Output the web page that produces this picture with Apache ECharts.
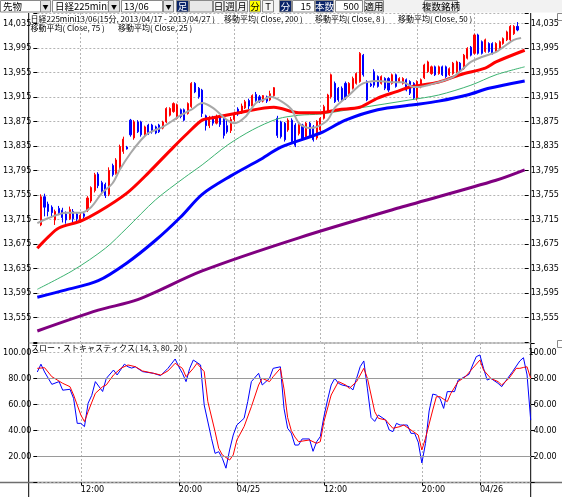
<!DOCTYPE html>
<html><head><meta charset="utf-8">
<script src="https://cdn.jsdelivr.net/npm/echarts@6/dist/echarts.min.js"></script>
<style>html,body{margin:0;padding:0;background:#fff}#c{width:562px;height:497px}</style>
</head><body><div id="c"></div>
<script>
// ---- data ----
const categoryCount = 137;            // 15-minute bars on the time axis
const firstCandle = 1;                // category index of first candle
const tickIdx  = [12, 39, 55, 79, 106, 122];
const tickText = ['12:00', '20:00', '04/25', '12:00', '20:00', '04/26'];

const opens = [13706,13752,13740,13735,13714,13733,13730,13724,13716,13728,13724,13714,13724,13730,13745,13762,13789,13775,13772,13756,
13803,13790,13800,13826,13833,13877,13848,13874,13874,13853,13869,13869,13866,13869,13864,13874,13885,13891,13880,13894,
13894,13888,13899,13937,13929,13926,13884,13868,13880,13872,13882,13880,13868,13860,13878,13895,13889,13897,13909,13900,
13919,13915,13908,13915,13910,13917,13880,13874,13872,13861,13877,13869,13855,13869,13850,13872,13866,13848,13861,13880,
13891,13915,13937,13929,13929,13937,13918,13929,13937,13940,13983,13940,13936,13956,13948,13937,13945,13945,13937,13951,
13940,13937,13943,13940,13937,13912,13931,13946,13956,13953,13964,13953,13964,13964,13951,13953,13956,13970,13961,13978,
13996,13986,14016,14005,13989,14002,14002,13989,13994,14002,14008,14008,14018,14030];
const closes = [13752,13735,13728,13726,13728,13726,13718,13714,13731,13716,13716,13722,13720,13750,13767,13788,13770,13760,13754,13795,
13788,13812,13834,13846,13830,13853,13874,13858,13853,13866,13855,13858,13856,13858,13874,13896,13896,13904,13902,13883,
13877,13904,13937,13923,13915,13888,13868,13880,13872,13882,13870,13852,13858,13878,13888,13887,13900,13907,13900,13917,
13909,13908,13917,13908,13920,13930,13852,13850,13845,13877,13842,13836,13872,13847,13872,13853,13845,13875,13880,13899,
13918,13951,13907,13910,13910,13913,13937,13945,13953,13986,13951,13910,13933,13934,13932,13948,13929,13926,13951,13932,
13945,13945,13926,13921,13913,13940,13943,13967,13972,13964,13951,13964,13951,13948,13961,13970,13972,13959,13983,13994,
13983,14016,13986,13986,14008,13989,13986,14002,14005,14010,14021,14030,14030,14024];
const lows = [13704,13720,13720,13718,13706,13722,13710,13708,13714,13710,13712,13710,13717,13727,13742,13759,13766,13756,13750,13753,
13785,13788,13796,13822,13829,13850,13845,13856,13850,13851,13853,13855,13854,13856,13862,13872,13883,13889,13878,13880,
13875,13886,13897,13921,13912,13882,13860,13864,13868,13870,13866,13847,13855,13856,13875,13884,13887,13895,13895,13898,
13907,13905,13906,13905,13908,13915,13848,13847,13842,13858,13838,13833,13852,13844,13847,13850,13842,13845,13858,13878,
13889,13912,13905,13907,13907,13910,13915,13927,13935,13938,13948,13908,13931,13930,13930,13935,13926,13923,13935,13930,
13938,13935,13924,13918,13910,13909,13929,13944,13954,13951,13949,13951,13949,13946,13949,13951,13954,13957,13959,13976,
13981,13984,13984,13984,13987,13987,13984,13987,13992,14000,14006,14006,14016,14022];
const highs = [13756,13757,13744,13738,13731,13737,13734,13728,13736,13732,13727,13726,13726,13753,13769,13791,13792,13778,13775,13800,
13806,13815,13837,13850,13835,13879,13877,13877,13876,13868,13871,13871,13868,13871,13876,13898,13898,13906,13904,13896,
13896,13906,13939,13939,13931,13928,13886,13884,13884,13886,13885,13882,13878,13882,13891,13898,13904,13910,13912,13919,
13923,13918,13918,13917,13925,13931,13884,13876,13874,13880,13880,13872,13874,13871,13874,13874,13869,13877,13882,13902,
13920,13953,13940,13931,13932,13940,13939,13948,13955,13988,13985,13942,13938,13960,13950,13950,13947,13947,13953,13953,
13947,13947,13945,13942,13939,13942,13945,13969,13974,13966,13966,13966,13966,13966,13963,13972,13974,13972,13985,13996,
13998,14018,14018,14007,14010,14004,14004,14004,14007,14012,14023,14032,14032,14037];

// moving averages read at sample bars: [category index, value]
const ma8 = [[0,13709],[3,13717],[8,13726],[12,13726],[15,13735],[18,13758],[21,13774],[23,13796],[26,13823],[29,13845],[31,13856],[33,13861],[35,13866],[38,13877],[40,13885],[43,13894],[46,13905],[49,13897],[53,13877],[55,13872],[58,13882],[61,13905],[63,13910],[65,13915],[68,13908],[71,13894],[73,13872],[76,13864],[78,13866],[81,13877],[83,13897],[87,13918],[90,13934],[92,13939],[95,13941],[99,13939],[102,13939],[105,13931],[106,13931],[109,13934],[112,13939],[116,13947],[119,13962],[121,13972],[124,13980],[128,13988],[130,13996],[133,14008],[135,14011]];
const ma25 = [[0,13668],[3,13686],[6,13701],[12,13712],[17,13727],[25,13758],[31,13791],[38,13833],[42,13856],[46,13877],[49,13881],[57,13890],[66,13898],[73,13889],[79,13889],[84,13894],[90,13898],[95,13913],[100,13923],[104,13931],[112,13939],[118,13951],[125,13962],[128,13972],[136,13991]];
const ma50 = [[0,13601],[10,13632],[19,13668],[25,13701],[33,13747],[41,13783],[46,13804],[53,13836],[60,13861],[67,13879],[73,13885],[79,13887],[90,13897],[104,13910],[112,13918],[121,13934],[128,13951],[136,13964]];
const ma75 = [[0,13588],[8,13600],[17,13615],[25,13644],[33,13681],[40,13719],[46,13756],[54,13786],[62,13812],[68,13833],[79,13856],[86,13877],[95,13894],[105,13902],[112,13908],[120,13918],[126,13929],[136,13941]];
const ma200 = [[0,13533],[17,13567],[28,13584],[46,13631],[73,13685],[101,13734],[128,13779],[136,13796]];

// slow stochastics (14, 3, 80, 20)
const stochK = [[0,85],[1,91],[2,85],[4,75.5],[6,77.6],[7,71],[9,71.7],[10,64.7],[11,45.5],[12,45.5],[13,43],[14,61],[15,67],[16,77.6],[18,70],[19,80],[21,86.5],[22,82.7],[24,91],[25,89],[26,88],[27,89],[29,85.3],[32,84],[34,82.2],[36,87.8],[38,95],[39,89],[40,84],[41,77.6],[42,87.8],[43,94.2],[45,90.4],[46,59.6],[48,34],[49,22.4],[50,23.7],[51,18.6],[52,11],[53,25],[54,36.5],[55,44.2],[57,49.4],[58,62.2],[59,77.6],[61,84],[62,75],[64,80.1],[65,87.8],[67,89],[68,57],[69,41.7],[70,38],[71,28.8],[72,28.8],[73,33.5],[75,33.5],[76,24],[77,31.4],[78,35.3],[79,50.6],[80,63.5],[81,75],[82,80.1],[83,76.3],[84,75],[86,73.7],[87,71.2],[88,80.1],[89,89.1],[90,93.5],[91,72],[92,50],[93,47],[94,51.9],[96,48.1],[97,40.4],[98,39.1],[99,45.5],[100,44.2],[102,44.2],[103,37.8],[104,37.8],[105,31],[106,15],[107,30],[108,55],[109,68],[110,67.3],[111,64.7],[112,57],[113,69.9],[115,69.9],[116,78.8],[117,80.1],[119,83.2],[120,90.4],[121,96.8],[122,98.1],[123,87.8],[124,78.8],[125,80.1],[127,76.3],[128,73.7],[129,77.6],[131,85.3],[133,93.5],[134,96],[135,82.7],[136,48]];
const stochD = [[0,87.8],[2,88.3],[4,81.4],[7,76.3],[9,73.7],[10,67.3],[12,51.9],[13,46.8],[14,54.5],[16,68.6],[18,73.7],[19,75],[21,82.7],[23,87.8],[25,90.4],[27,89.1],[29,85.8],[32,84],[34,82.7],[36,85.8],[38,91.7],[40,87.8],[41,81.4],[43,87.8],[44,91.7],[46,85.3],[47,62.2],[49,39.1],[50,26.3],[51,21.2],[53,17.3],[54,21.2],[55,32.7],[57,43],[59,58.3],[61,75],[62,80.1],[64,77.6],[65,81.4],[67,87.8],[68,72],[69,50],[70,40],[71,35],[72,31.4],[75,32.7],[77,30.1],[78,31.4],[79,46.8],[81,67.3],[83,77.6],[85,75],[86,72.4],[88,77.6],[90,87.8],[91,80.1],[93,54.5],[94,49.4],[96,48.1],[98,41.7],[100,43],[101,44.2],[103,40.4],[105,36.5],[106,25],[107,34],[109,55.8],[110,66],[111,66],[113,62.2],[114,68.6],[116,77.6],[118,81.4],[120,87.8],[122,94.2],[123,86.5],[125,80.1],[127,77.6],[128,75],[130,80.1],[132,87.8],[133,87.8],[134,88.5],[135,89],[136,80]];

const priceMin = 13515, priceMax = 14051.8, priceStep = 40;
const stochMin = 0, stochMax = 107.3, stochStep = 20;
const stochBands = [80, 20];

const legendLine1 = ['日経225mini', '13/06(15分, 2013/04/17 - 2013/04/27 )', '移動平均( Close, 200 )', '移動平均( Close, 8 )', '移動平均( Close, 50 )'];
const legendLine2 = ['移動平均( Close, 75 )', '移動平均( Close, 25 )'];
const stochTitle = 'スロー・ストキャスティクス( 14, 3, 80, 20 )';

// ---- layout / style ----
const NUMF = '"Liberation Sans Narrow","DejaVu Sans Condensed","Liberation Sans",sans-serif';
const JPF = '"Noto Sans CJK JP",sans-serif';
const L = 28.7, R = 530.7, W = 562, H = 497;
const gridLine = {color:'#b4b4b4', type:[2,2], width:1};

const cats = Array.from({length: categoryCount}, (_, i) => String(i));
const tickSet = new Set(tickIdx);
const candleData = cats.map((_, i) => {
  const k = i - firstCandle;
  if (k < 0 || k >= opens.length) return '-';
  return [opens[k], closes[k], lows[k], highs[k]];
});

const chart = echarts.init(document.getElementById('c'), null, {renderer:'canvas'});

function xAxis(gi, labels) {
  return {
    type:'category', gridIndex:gi, data:cats, boundaryGap:false,
    axisLine:{show:false},
    axisTick:{show:labels, interval:(i)=>tickSet.has(i), length:3, lineStyle:{color:'#000'}},
    axisLabel:{show:labels, interval:(i)=>tickSet.has(i), align:'left', margin:3,
      fontFamily:NUMF, fontSize:9, color:'#000',
      formatter:(v)=>{const p = tickIdx.indexOf(Number(v)); return p>=0 ? tickText[p] : '';}},
    splitLine:{show:true, interval:(i)=>tickSet.has(i), lineStyle:gridLine}
  };
}
function priceFmt(v){ return (v < 13550 || v > 14040) ? '' : v.toLocaleString('en-US'); }
function stochFmt(v){ return (v <= 0 || v > 100) ? '' : v.toFixed(2); }
function yAxis(gi, pos, mn, mx, step, fmt, split, extra) {
  return Object.assign({
    type:'value', gridIndex:gi, position:pos, min:mn, max:mx, interval:step,
    axisLine:{show:false},
    axisTick:{show:true, length:4, lineStyle:{color:'#000'}},
    axisLabel:{formatter:fmt, fontFamily:NUMF, fontSize:9, color:'#000', margin:6, showMinLabel:true, showMaxLabel:true},
    splitLine:{show:split, lineStyle:gridLine}
  }, extra || {});
}

const LEGEND_FONT = '8px ' + JPF;
const legendGraphics = [];
const line1X = [30.5, 76, 224, 315, 398];
legendLine1.forEach((t, k) => legendGraphics.push({type:'text', x:line1X[k], y:18.5, silent:true,
  style:{text:t, font:LEGEND_FONT, fill:'#000', verticalAlign:'middle'}}));
const line2X = [30.5, 118];
legendLine2.forEach((t, k) => legendGraphics.push({type:'text', x:line2X[k], y:27.5, silent:true,
  style:{text:t, font:LEGEND_FONT, fill:'#000', verticalAlign:'middle'}}));
legendGraphics.push({type:'text', x:31, y:347.5, silent:true,
  style:{text:stochTitle, font:LEGEND_FONT, fill:'#000', verticalAlign:'middle'}});

// toolbar of the trading application (UI chrome above the chart)
const toolbar = [
  {x:0,   w:40, t:'先物',      bg:'#ffffff', fg:'#000', a:'left'},
  {x:40,  w:10, t:'▼',        bg:'#e4e4e4', fg:'#000', s:6},
  {x:52,  w:56, t:'日経225mini', bg:'#ffffff', fg:'#000', a:'left'},
  {x:108, w:11, t:'▼',        bg:'#e4e4e4', fg:'#000', s:6},
  {x:121, w:41, t:'13/06',     bg:'#ffffff', fg:'#000', a:'left'},
  {x:163, w:10, t:'▼',        bg:'#e4e4e4', fg:'#000', s:6},
  {x:176, w:12, t:'足',        bg:'#0a246a', fg:'#fff'},
  {x:189, w:23, t:'',          bg:'#e8e8e8', fg:'#000'},
  {x:213, w:10, t:'日',        bg:'#f4f4f4', fg:'#000'},
  {x:224, w:11, t:'週',        bg:'#f4f4f4', fg:'#000'},
  {x:236, w:11, t:'月',        bg:'#f4f4f4', fg:'#000'},
  {x:249, w:11, t:'分',        bg:'#ffff00', fg:'#000'},
  {x:262, w:11, t:'T',         bg:'#f4f4f4', fg:'#000'},
  {x:279, w:12, t:'分',        bg:'#0a246a', fg:'#fff'},
  {x:292, w:22, t:'15',        bg:'#ffffff', fg:'#000', a:'right'},
  {x:315, w:18, t:'本数',      bg:'#0a246a', fg:'#fff'},
  {x:335, w:27, t:'500',       bg:'#ffffff', fg:'#000', a:'right'},
  {x:364, w:19, t:'適用',      bg:'#ececec', fg:'#000'},
  {x:424, w:33, t:'複数銘柄',  bg:'#ececec', fg:'#000'}
];
const toolbarGraphics = [{type:'rect', shape:{x:0,y:0,width:W,height:12.5}, style:{fill:'#f2f2f2'}, silent:true}];
toolbar.forEach(b => {
  toolbarGraphics.push({type:'rect', shape:{x:b.x+0.5, y:0.5, width:b.w, height:11.5},
    style:{fill:b.bg, stroke:'#8a8a8a', lineWidth:1}, silent:true});
  if (b.t) {
    const a = b.a || 'center';
    const tx = a === 'left' ? b.x + 3 : (a === 'right' ? b.x + b.w - 3 : b.x + b.w / 2 + 0.5);
    toolbarGraphics.push({type:'text', x:tx, y:6.5, silent:true,
      style:{text:b.t, font:(b.s || 9.5) + 'px ' + JPF, fill:b.fg, align:a, verticalAlign:'middle'}});
  }
});

const frameGraphics = [
  {type:'line', shape:{x1:L, y1:13, x2:L, y2:H}, style:{stroke:'#000', lineWidth:1}, silent:true},
  {type:'line', shape:{x1:R, y1:13, x2:R, y2:H}, style:{stroke:'#000', lineWidth:1}, silent:true},
  {type:'line', shape:{x1:L, y1:343, x2:R, y2:343}, style:{stroke:'#9a9a9a', lineWidth:1}, silent:true},
  {type:'line', shape:{x1:0, y1:482.5, x2:W, y2:482.5}, style:{stroke:'#6e6e6e', lineWidth:1.5}, silent:true},
  {type:'rect', shape:{x:557.5, y:13.5, width:8, height:7}, style:{fill:'#fff', stroke:'#8a8a8a'}, silent:true},
  {type:'rect', shape:{x:557.5, y:340.5, width:8, height:7}, style:{fill:'#fff', stroke:'#8a8a8a'}, silent:true}
];

function maLine(name, data, color, width) {
  return {name, type:'line', xAxisIndex:0, yAxisIndex:0, data, showSymbol:false, symbol:'none', smooth:0.3,
    lineStyle:{color, width}, itemStyle:{color}, silent:true, z:3};
}

chart.setOption({
  animation:false,
  backgroundColor:'#ffffff',
  grid:[
    {left:L, right:W - R, top:13, height:329},
    {left:L, right:W - R, top:343, height:139.5}
  ],
  xAxis:[xAxis(0, false), xAxis(1, true)],
  yAxis:[
    yAxis(0, 'left', priceMin, priceMax, priceStep, priceFmt, true),
    yAxis(0, 'right', priceMin, priceMax, priceStep, priceFmt, false, {}),
    yAxis(1, 'left', stochMin, stochMax, stochStep, stochFmt, true),
    yAxis(1, 'right', stochMin, stochMax, stochStep, stochFmt, false,
      {axisLabel:{formatter:stochFmt, fontFamily:NUMF, fontSize:9, color:'#000', margin:26, align:'right'}})
  ],
  series:[
    {name:'日経225mini', type:'candlestick', xAxisIndex:0, yAxisIndex:0, data:candleData, barWidth:1.6,
      itemStyle:{color:'#ff0000', color0:'#0000ff', borderColor:'#ff0000', borderColor0:'#0000ff', borderWidth:1}, z:2},
    maLine('移動平均( Close, 200 )', ma200, '#800080', 3),
    maLine('移動平均( Close, 75 )', ma75, '#0000ff', 3),
    maLine('移動平均( Close, 50 )', ma50, '#3cb371', 1),
    maLine('移動平均( Close, 25 )', ma25, '#ff0000', 3),
    maLine('移動平均( Close, 8 )', ma8, '#a8a8a8', 2),
    {name:'%K', type:'line', xAxisIndex:1, yAxisIndex:2, data:stochK, showSymbol:false, symbol:'none',
      lineStyle:{color:'#0000ff', width:1}, silent:true,
      markLine:{silent:true, symbol:'none', label:{show:false},
        lineStyle:{color:'#9a9a9a', type:'solid', width:1}, data:stochBands.map(v => ({yAxis:v}))}},
    {name:'%D', type:'line', xAxisIndex:1, yAxisIndex:2, data:stochD, showSymbol:false, symbol:'none',
      lineStyle:{color:'#ff0000', width:1}, silent:true}
  ],
  graphic:[].concat(frameGraphics, toolbarGraphics, legendGraphics)
});
</script>
</body></html>
